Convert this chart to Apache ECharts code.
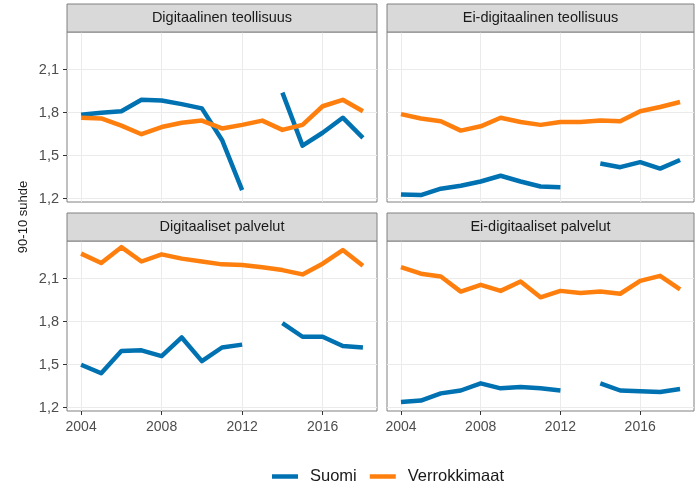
<!DOCTYPE html>
<html>
<head>
<meta charset="utf-8">
<script src="https://cdn.jsdelivr.net/npm/echarts@6/dist/echarts.min.js"></script>
<style>
html,body{margin:0;padding:0;background:#fff;}
#c{width:695px;height:486px;}
</style>
</head>
<body>
<div id="c"></div>
<script>
var years = [2004,2005,2006,2007,2008,2009,2010,2011,2012,2013,2014,2015,2016,2017,2018];
var panels = ["Digitaalinen teollisuus","Ei-digitaalinen teollisuus","Digitaaliset palvelut","Ei-digitaaliset palvelut"];
var seriesNames = ["Suomi","Verrokkimaat"];
var yTicks = [1.2,1.5,1.8,2.1];
var xTicks = [2004,2008,2012,2016];

var digiTeollSuomi = [1.785,1.80,1.81,1.89,1.885,1.86,1.83,1.61,1.26,null,1.94,1.57,1.66,1.765,1.625];
var digiTeollVerr  = [1.765,1.76,1.71,1.65,1.70,1.73,1.745,1.69,1.715,1.745,1.68,1.715,1.845,1.89,1.81];
var eiDigiTeollSuomi = [1.23,1.225,1.27,1.29,1.32,1.36,1.32,1.285,1.28,null,1.445,1.42,1.455,1.41,1.47];
var eiDigiTeollVerr  = [1.79,1.76,1.74,1.675,1.705,1.765,1.735,1.715,1.735,1.735,1.745,1.74,1.81,1.84,1.875];
var digiPalvSuomi = [1.50,1.44,1.595,1.60,1.56,1.69,1.525,1.62,1.64,null,1.79,1.695,1.695,1.63,1.62];
var digiPalvVerr  = [2.275,2.21,2.32,2.22,2.27,2.24,2.22,2.20,2.195,2.18,2.16,2.13,2.205,2.30,2.19];
var eiDigiPalvSuomi = [1.24,1.25,1.30,1.32,1.37,1.335,1.345,1.335,1.32,null,1.37,1.32,1.315,1.31,1.33];
var eiDigiPalvVerr  = [2.18,2.135,2.115,2.01,2.057,2.015,2.08,1.97,2.015,2.00,2.01,1.995,2.085,2.12,2.025];

var panelData = [
  [digiTeollSuomi, digiTeollVerr],
  [eiDigiTeollSuomi, eiDigiTeollVerr],
  [digiPalvSuomi, digiPalvVerr],
  [eiDigiPalvSuomi, eiDigiPalvVerr]
];
var colors = ["#0072B2","#FF7F0E"];

var gridPos = [
  {left:67, top:32, width:310, height:170},
  {left:387, top:32, width:307, height:170},
  {left:67, top:241, width:310, height:170},
  {left:387, top:241, width:307, height:170}
];
var stripH = 28;
var border = "#808080";
var ff = "Liberation Sans, Arial, sans-serif";

var grids = [], xAxes = [], yAxes = [], series = [], graphics = [];
gridPos.forEach(function(g, i){
  grids.push({left:g.left, top:g.top, width:g.width, height:g.height, show:true,
    backgroundColor:"#fff", borderColor:border, borderWidth:1, containLabel:false});
  var bottomRow = i >= 2, leftCol = (i % 2) === 0;
  xAxes.push({type:"value", gridIndex:i, min:2003.3, max:2018.7,
    axisLine:{show:false},
    axisTick:{show:bottomRow, length:4, lineStyle:{color:"#333"}, customValues:xTicks},
    axisLabel:{show:bottomRow, customValues:xTicks, color:"#4D4D4D", fontSize:14, margin:9,
      fontFamily:ff, formatter:function(v){return String(v);}},
    splitLine:{show:true, lineStyle:{color:"#EBEBEB", width:1}}
  });
  yAxes.push({type:"value", gridIndex:i, min:1.177, max:2.363,
    axisLine:{show:false},
    axisTick:{show:leftCol, length:4, lineStyle:{color:"#333"}, customValues:yTicks},
    axisLabel:{show:leftCol, customValues:yTicks, color:"#4D4D4D", fontSize:14.5, margin:8,
      fontFamily:ff,
      formatter:function(v){return (Math.round(v*10)/10).toFixed(1).replace(".",",");}},
    splitLine:{show:true, lineStyle:{color:"#EBEBEB", width:1}}
  });
  panelData[i].forEach(function(vals, s){
    series.push({type:"line", name:seriesNames[s], xAxisIndex:i, yAxisIndex:i,
      data: years.map(function(y, k){ return [y, vals[k]]; }),
      showSymbol:false, symbol:"none", connectNulls:false, z:2+s,
      lineStyle:{color:colors[s], width:4.5, cap:"butt", join:"round"},
      itemStyle:{color:colors[s]}, emphasis:{disabled:true}, animation:false});
  });
  graphics.push({type:"rect", shape:{x:g.left, y:g.top-stripH, width:g.width, height:stripH},
    style:{fill:"#D9D9D9", stroke:border, lineWidth:1}, z:10});
  graphics.push({type:"text", x:g.left+g.width/2, y:g.top-stripH/2,
    style:{text:panels[i], fill:"#1A1A1A", fontSize:14.5, fontFamily:ff,
      textAlign:"center", textVerticalAlign:"middle"}, z:11});
});
graphics.push({type:"text", x:23, y:217, rotation:Math.PI/2,
  style:{text:"90-10 suhde", fill:"#1A1A1A", fontSize:13, fontFamily:ff,
    textAlign:"center", textVerticalAlign:"middle"}});

var chart = echarts.init(document.getElementById("c"), null, {renderer:"canvas"});
chart.setOption({
  animation:false,
  backgroundColor:"#fff",
  grid:grids, xAxis:xAxes, yAxis:yAxes, series:series,
  graphic:graphics,
  legend:{data:seriesNames, left:272, top:468, itemWidth:26, itemHeight:4.5, itemGap:13,
    icon:"rect", padding:0,
    textStyle:{color:"#1A1A1A", fontSize:16.5, fontFamily:ff, padding:[0,0,0,7]}}
});
</script>
</body>
</html>
